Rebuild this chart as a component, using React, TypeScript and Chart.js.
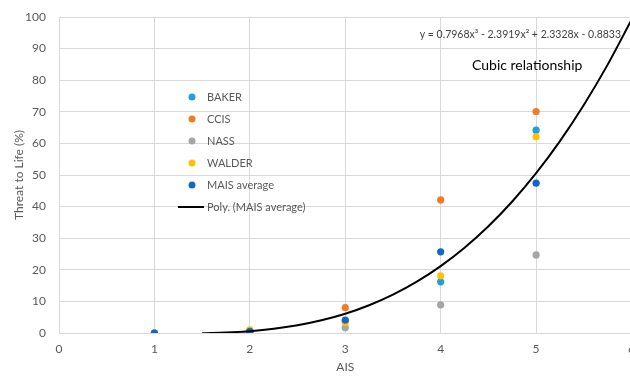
import React, { useEffect, useRef } from "react";
import { Chart, registerables } from "chart.js";

Chart.register(...registerables);

// AIS levels (x)
const aisLevels = [1, 2, 3, 4, 5];
// Series values (Threat to Life %)
const bakerValues = [0, 0.5, 3.8, 16.2, 64.2];
const ccisValues = [0, 0.5, 8, 42.1, 70.1];
const nassValues = [0, 0.5, 1.7, 8.9, 24.7];
const walderValues = [0, 1, 3.3, 18.1, 62.1];
const maisAverageValues = [0, 0.5, 4.1, 25.7, 47.4];

// Polynomial trendline of MAIS average
const trendX = [1.5, 1.75, 2, 2.25, 2.5, 2.75, 3, 3.25, 3.5, 3.75, 4, 4.25, 4.5, 4.75, 5, 5.25, 5.5, 5.75, 6];
const trendY = [-0.08, 0.14, 0.59, 1.33, 2.45, 4.01, 6.1, 8.79, 12.14, 16.25, 21.18, 26.99, 33.79, 41.62, 50.58, 60.74, 72.16, 84.93, 99.12];

const seriesLabels = ["BAKER", "CCIS", "NASS", "WALDER", "MAIS average", "Poly. (MAIS average)"];
const seriesColors = ["#1E9FE0", "#F47B26", "#A5A5A5", "#FFC000", "#1266C4", "#000000"];

const xTicks = [0, 1, 2, 3, 4, 5, 6];
const yTicks = [0, 10, 20, 30, 40, 50, 60, 70, 80, 90, 100];

const equationText = "y = 0.7968x\u00B3 - 2.3919x\u00B2 + 2.3328x - 0.8833";
const noteText = "Cubic relationship";
const xTitle = "AIS";
const yTitle = "Threat to Life (%)";

const FONT = "Lato, 'Open Sans', sans-serif";

const annotationPlugin = {
  id: "insideLegendAndNotes",
  afterDraw(chart: any) {
    const ctx = chart.ctx as CanvasRenderingContext2D;
    ctx.save();
    ctx.textBaseline = "middle";
    ctx.textAlign = "left";
    ctx.font = `11px ${FONT}`;
    chart.data.datasets.forEach((ds: any, i: number) => {
      const y = 97 + i * 22;
      if (ds.showLine) {
        ctx.strokeStyle = ds.borderColor;
        ctx.lineWidth = 2;
        ctx.beginPath();
        ctx.moveTo(178, y);
        ctx.lineTo(204, y);
        ctx.stroke();
      } else {
        ctx.fillStyle = ds.backgroundColor;
        ctx.beginPath();
        ctx.arc(192, y, 3.5, 0, Math.PI * 2);
        ctx.fill();
      }
      ctx.fillStyle = "#595959";
      ctx.fillText(ds.label, 207, y);
    });
    ctx.fillStyle = "#404040";
    ctx.textAlign = "right";
    ctx.font = `10.5px ${FONT}`;
    ctx.fillText(equationText, 621, 35);
    ctx.textAlign = "left";
    ctx.fillStyle = "#000000";
    ctx.font = `14px ${FONT}`;
    ctx.fillText(noteText, 472, 65);
    ctx.restore();
  },
};

export default function App() {
  const canvasRef = useRef<HTMLCanvasElement | null>(null);

  useEffect(() => {
    const canvas = canvasRef.current;
    if (!canvas) return;
    const pointSets = [bakerValues, ccisValues, nassValues, walderValues, maisAverageValues];
    const datasets: any[] = pointSets.map((vals, i) => ({
      type: "scatter",
      label: seriesLabels[i],
      data: aisLevels.map((x, j) => ({ x, y: vals[j] })),
      backgroundColor: seriesColors[i],
      borderColor: seriesColors[i],
      pointRadius: 3.6,
      pointBorderWidth: 0,
      showLine: false,
      order: 6 - i,
    }));
    datasets.push({
      type: "line",
      label: seriesLabels[5],
      data: trendX.map((x, j) => ({ x, y: trendY[j] })),
      borderColor: seriesColors[5],
      backgroundColor: seriesColors[5],
      borderWidth: 2,
      pointRadius: 0,
      showLine: true,
      fill: false,
      cubicInterpolationMode: "monotone",
      order: 0,
    });

    const chart = new Chart(canvas, {
      type: "scatter",
      data: { datasets },
      options: {
        animation: false,
        responsive: false,
        maintainAspectRatio: false,
        layout: { padding: { top: 17, right: 0, left: 0, bottom: 0 } },
        plugins: {
          legend: { display: false },
          tooltip: { enabled: false },
        },
        scales: {
          x: {
            type: "linear",
            min: 0,
            max: 6,
            afterBuildTicks: (scale: any) => {
              scale.ticks = xTicks.map((v) => ({ value: v }));
            },
            afterFit: (scale: any) => {
              scale.height = 43;
            },
            grid: { color: "#D9D9D9", drawTicks: false },
            border: { color: "#D9D9D9" },
            ticks: { color: "#595959", font: { family: FONT, size: 12 }, padding: 9 },
            title: {
              display: true,
              text: xTitle,
              color: "#595959",
              font: { family: FONT, size: 12 },
              padding: { top: 0, bottom: 2 },
            },
          },
          y: {
            type: "linear",
            min: 0,
            max: 100,
            afterBuildTicks: (scale: any) => {
              scale.ticks = yTicks.map((v) => ({ value: v }));
            },
            afterFit: (scale: any) => {
              scale.width = 59;
              scale.paddingTop = 0;
              scale.paddingBottom = 0;
            },
            grid: { color: "#D9D9D9", drawTicks: false },
            border: { color: "#D9D9D9" },
            ticks: { color: "#595959", font: { family: FONT, size: 12 }, padding: 13 },
            title: {
              display: true,
              text: yTitle,
              color: "#595959",
              font: { family: FONT, size: 12 },
              padding: { top: 12, bottom: 0 },
            },
          },
        },
      },
      plugins: [annotationPlugin],
    } as any);
    return () => chart.destroy();
  }, []);

  return (
    <div style={{ position: "absolute", left: 0, top: 0, width: 630, height: 376, overflow: "hidden", background: "#fff" }}>
      <canvas ref={canvasRef} width={644} height={376} style={{ display: "block", width: 644, height: 376 }} />
    </div>
  );
}
